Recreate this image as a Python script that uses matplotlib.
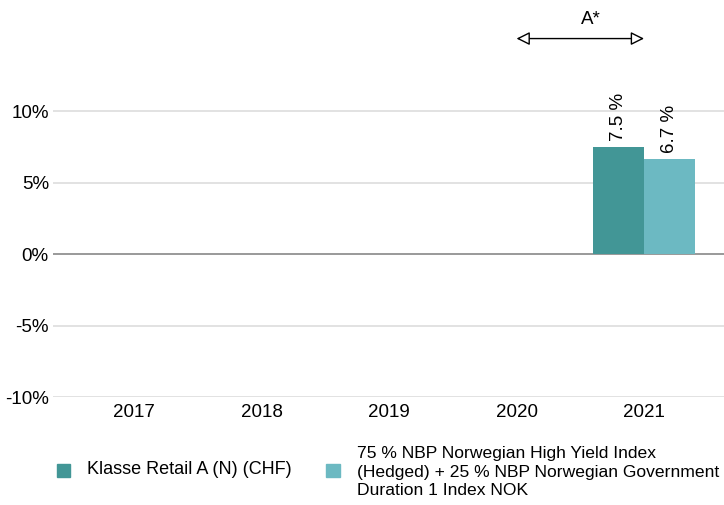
import matplotlib.pyplot as plt
import numpy as np

years = ['2017', '2018', '2019', '2020', '2021']
fund = [np.nan, np.nan, np.nan, np.nan, 7.5]
bench = [np.nan, np.nan, np.nan, np.nan, 6.7]
fund_name = 'Klasse Retail A (N) (CHF)'
bench_name = ('75 % NBP Norwegian High Yield Index\n'
              '(Hedged) + 25 % NBP Norwegian Government\n'
              'Duration 1 Index NOK')
yticks = [-10, -5, 0, 5, 10]

plt.rcParams['font.family'] = ['Liberation Sans', 'DejaVu Sans']

c1 = '#429696'
c2 = '#6cb9c2'
fs = 13.5

fig = plt.figure(figsize=(7.24, 5.05), dpi=100)
ax = fig.add_axes([53 / 724, 108 / 505, 1 - 53 / 724, 1 - 108 / 505])

x = np.arange(len(years))
w = 0.4
ax.bar(x - w / 2, fund, w, color=c1, zorder=3)
ax.bar(x + w / 2, bench, w, color=c2, zorder=3)

for i in range(len(years)):
    if not np.isnan(fund[i]):
        ax.text(x[i] - w / 2, fund[i] + 0.4, f'{fund[i]:.1f} %', rotation=90,
                ha='center', va='bottom', fontsize=fs)
    if not np.isnan(bench[i]):
        ax.text(x[i] + w / 2, bench[i] + 0.4, f'{bench[i]:.1f} %', rotation=90,
                ha='center', va='bottom', fontsize=fs)

ax.set_xlim(-0.635, 4.627)
ax.set_ylim(-10, 17.8)
ax.set_yticks(yticks)
ax.set_yticklabels([f'{t}%' for t in yticks], fontsize=fs)
ax.set_xticks(x)
ax.set_xticklabels(years, fontsize=fs)
ax.tick_params(axis='y', length=0, pad=3)
ax.tick_params(axis='x', length=0, pad=5)
for s in ax.spines.values():
    s.set_visible(False)
for t in yticks:
    ax.axhline(t, color='#888888' if t == 0 else '#dddddd', lw=1.2, zorder=1)

# A* period marker
ax.annotate('', xy=(3, 15.1), xytext=(4, 15.1),
            arrowprops=dict(arrowstyle='<|-|>', color='black', fc='white', lw=1,
                            shrinkA=0, shrinkB=0, mutation_scale=20))
ax.text(3.58, 16.4, 'A*', ha='center', va='center', fontsize=fs)

# legend
fig.patches.append(plt.Rectangle((57 / 724, 1 - 477 / 505), 13 / 724, 13 / 505,
                                 color=c1, transform=fig.transFigure))
fig.text(87 / 724, 1 - 470 / 505, fund_name, va='center', fontsize=13)
fig.patches.append(plt.Rectangle((326 / 724, 1 - 477 / 505), 14 / 724, 13 / 505,
                                 color=c2, transform=fig.transFigure))
fig.text(357 / 724, 1 - 472 / 505, bench_name, va='center', fontsize=12.6,
         linespacing=1.3)

fig.savefig('out.png', dpi=100)
